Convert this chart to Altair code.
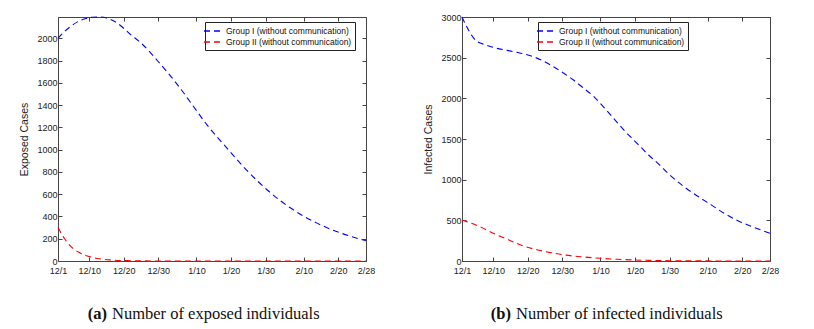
import altair as alt
import pandas as pd

# ---------------- data ----------------
tick_days = [0, 9, 19, 29, 40, 50, 60, 71, 81, 89]
tick_labels = ["12/1", "12/10", "12/20", "12/30", "1/10", "1/20", "1/30", "2/10", "2/20", "2/28"]
series_names = ["Group I (without communication)", "Group II (without communication)"]

exp_g1_days = [0, 2, 4, 6, 8, 10, 12, 14, 17, 21, 24, 29, 35, 39, 43, 48, 54, 61, 67, 75, 82, 89]
exp_g1_vals = [2000, 2065, 2115, 2155, 2178, 2190, 2192, 2183, 2140, 2034, 1958, 1790, 1565, 1395, 1225, 1044, 833, 624, 480, 338, 248, 182]

exp_g2_days = [0, 2, 4, 6, 8, 10, 12, 15, 20, 25, 30, 40, 60, 89]
exp_g2_vals = [300, 195, 122, 78, 50, 32, 20, 10, 3, 1, 0, 0, 0, 0]

inf_g1_days = [0, 2, 4, 7, 10, 13, 17, 20, 23, 26, 29, 32, 35, 38, 41, 44, 47, 50, 54, 57, 60, 64, 68, 72, 76, 80, 84, 89]
inf_g1_vals = [3000, 2830, 2710, 2655, 2615, 2590, 2555, 2520, 2470, 2400, 2320, 2232, 2130, 2025, 1890, 1745, 1600, 1472, 1300, 1185, 1060, 918, 800, 690, 580, 490, 420, 340]

inf_g2_days = [0, 5, 9, 14, 18, 22, 26, 30, 35, 40, 45, 50, 55, 60, 70, 80, 89]
inf_g2_vals = [505, 425, 342, 250, 180, 135, 100, 72, 50, 33, 21, 12, 7, 4, 1, 0, 0]


def frame(d1, v1, d2, v2):
    rows = [{"day": d, "value": v, "series": series_names[0]} for d, v in zip(d1, v1)]
    rows += [{"day": d, "value": v, "series": series_names[1]} for d, v in zip(d2, v2)]
    return pd.DataFrame(rows)


df_exp = frame(exp_g1_days, exp_g1_vals, exp_g2_days, exp_g2_vals)
df_inf = frame(inf_g1_days, inf_g1_vals, inf_g2_days, inf_g2_vals)

label_expr = ""
for d, l in zip(tick_days, tick_labels):
    label_expr += f"datum.value == {d} ? '{l}' : "
label_expr += "''"

FONT = "Liberation Sans"
SERIF = "Liberation Serif"
INWARD = alt.ExprRef("-4")


def panel(df, ymax, ystep, ytitle, legend_x, cap_tag, cap_text):
    xs = alt.Scale(domain=[0, 89], nice=False, zero=False)
    ys = alt.Scale(domain=[0, ymax], nice=False)
    yvals = list(range(0, ymax + 1, ystep))
    cs = alt.Scale(domain=series_names, range=["#0000ff", "#ff0000"])

    lines = alt.Chart(df).mark_line(
        strokeDash=[6, 4], strokeWidth=1.1, interpolate="monotone"
    ).encode(
        x=alt.X("day:Q", scale=xs, axis=alt.Axis(
            values=tick_days, labelExpr=label_expr, title=None, grid=False,
            tickSize=INWARD, labelPadding=9, labelFont=FONT, labelFontSize=9,
            labelFlush=False, labelOverlap=False,
            labelColor="#222", domainColor="#444", tickColor="#444")),
        y=alt.Y("value:Q", scale=ys, axis=alt.Axis(
            values=yvals, format="d", title=ytitle, grid=False, tickSize=INWARD,
            labelPadding=5, labelFont=FONT, labelFontSize=9, labelColor="#222",
            labelFlush=False, labelOverlap=False,
            titleFont=FONT, titleFontSize=10.5, titleFontWeight="normal",
            titleColor="#222", titlePadding=7,
            domainColor="#444", tickColor="#444")),
        color=alt.Color("series:N", scale=cs, legend=alt.Legend(
            title=None, orient="none", legendX=legend_x, legendY=5,
            direction="vertical", symbolType="M-2,0H2", symbolDash=[6, 4],
            symbolStrokeWidth=1.3, symbolSize=100, labelFont=FONT,
            labelFontSize=8.5, labelColor="#111", strokeColor="#222",
            fillColor="white", padding=3, rowPadding=0, labelOffset=6)),
    )

    box = alt.Chart(df).mark_line(opacity=0).encode(
        x=alt.X("day:Q", scale=xs, axis=alt.Axis(
            orient="top", values=tick_days, labels=False, title=None,
            grid=False, tickSize=INWARD, domainColor="#444", tickColor="#444")),
        y=alt.Y("value:Q", scale=ys, axis=alt.Axis(
            orient="right", values=yvals, labels=False, title=None,
            grid=False, tickSize=INWARD, domainColor="#444", tickColor="#444")),
        detail="series:N",
    )

    cap_df = pd.DataFrame({"tag": [cap_tag], "text": [cap_text]})
    tag = alt.Chart(cap_df).mark_text(
        align="right", baseline="alphabetic", font=SERIF, fontSize=16.5,
        fontWeight="bold", color="#111"
    ).encode(text="tag:N", x=alt.value(49), y=alt.value(302))
    txt = alt.Chart(cap_df).mark_text(
        align="left", baseline="alphabetic", font=SERIF, fontSize=16.5,
        color="#111"
    ).encode(text="text:N", x=alt.value(54), y=alt.value(302))

    return alt.layer(lines, box, tag, txt).resolve_axis(
        x="independent", y="independent"
    ).properties(width=308, height=244)


left = panel(df_exp, 2192, 200, "Exposed Cases", 147, "(a)", "Number of exposed individuals")
right = panel(df_inf, 3000, 500, "Infected Cases", 76, "(b)", "Number of infected individuals")

chart = alt.hconcat(left, right, spacing=47).resolve_legend(
    color="independent"
).resolve_scale(color="independent").properties(
    padding={"left": 11, "top": 4, "right": 0, "bottom": 0}
).configure_view(stroke=None).configure(background="white")

chart.save("out.html", embed_options={"renderer": "svg", "actions": False})
